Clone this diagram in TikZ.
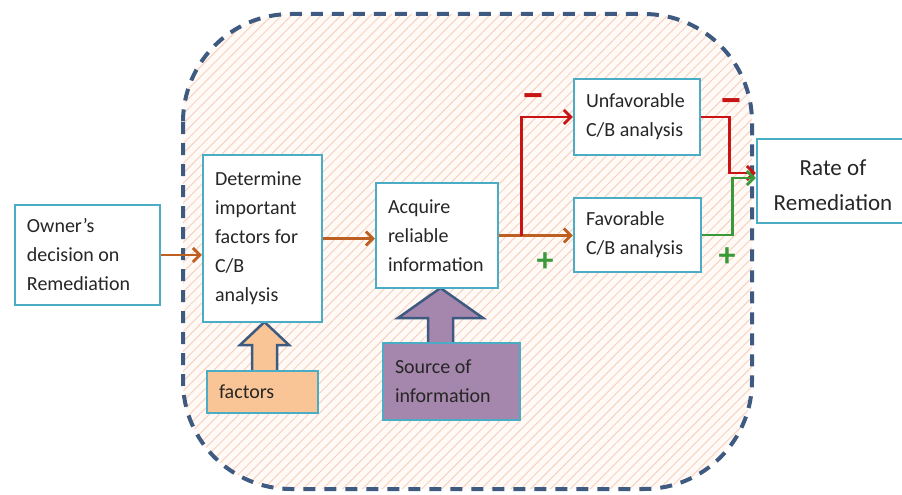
\documentclass[tikz,border=0pt]{standalone}
\usepackage{fontspec}
\setmainfont{Carlito}
\usetikzlibrary{arrows.meta,patterns.meta,calc}

\definecolor{boxteal}{HTML}{4BACC6}
\definecolor{textgray}{HTML}{262626}
\definecolor{dashblue}{HTML}{3F5A80}
\definecolor{flowbrown}{HTML}{BE5F22}
\definecolor{negred}{HTML}{C81414}
\definecolor{posgreen}{HTML}{3A9A3A}
\definecolor{hatch}{HTML}{F6D2C2}
\definecolor{peach}{HTML}{FFFAF6}
\definecolor{factorfill}{HTML}{F9C596}
\definecolor{sourcefill}{HTML}{A586AC}

\tikzset{
  box/.style={draw=boxteal, line width=2.5pt, fill=white, align=flush left,
    inner sep=0pt, text=textgray, font=\fontsize{20}{29}\selectfont},
  flow/.style={line width=2.8pt,
    -{Straight Barb[length=7pt,width=14pt]}},
  blockarrow/.style={draw=dashblue, line width=2.5pt, line join=miter},
  sign/.style={font=\bfseries\fontsize{34}{34}\selectfont, inner sep=0pt},
  minussign/.style={sign, font=\bfseries\fontsize{44}{44}\selectfont}
}

\begin{document}
\begin{tikzpicture}[x=1pt,y=-1pt]
\useasboundingbox (0,0) rectangle (902,495);

% dashed system boundary with hatched fill
\fill[peach, rounded corners=108pt] (183,14) rectangle (752,489);
\fill[pattern={Lines[angle=45,distance=7pt,line width=1pt]}, pattern color=hatch,
  rounded corners=108pt] (183,14) rectangle (752,489);
\draw[dashblue, line width=4pt, dash pattern=on 12pt off 9pt, rounded corners=108pt]
  (183,14) rectangle (752,489);

% block arrows feeding the process boxes
\draw[blockarrow, fill=factorfill]
  (252,372) -- (252,345) -- (240,345) -- (264.5,322) -- (289,345) -- (277,345) -- (277,372) -- cycle;
\draw[blockarrow, fill=sourcefill]
  (428,344) -- (428,318) -- (398,318) -- (440.5,288) -- (483,318) -- (453,318) -- (453,344) -- cycle;

% boxes
\node[box, minimum width=145pt, minimum height=100pt, text width=121pt] (owner) at (87.5,255)
  {Owner’s\\decision on\\Remediation};
\node[box, minimum width=119pt, minimum height=167pt, text width=95pt] (determine) at (262.5,238.5)
  {Determine\\important\\factors for\\C/B\\analysis};
\node[box, minimum width=122pt, minimum height=105pt, text width=98pt] (acquire) at (437,235.5)
  {Acquire\\reliable\\information};
\node[box, minimum width=126pt, minimum height=76pt, text width=102pt] (unfav) at (637,117)
  {Unfavorable\\C/B analysis};
\node[box, minimum width=127pt, minimum height=74pt, text width=103pt] (fav) at (637.5,235)
  {Favorable\\C/B analysis};
\node[box, align=flush center, minimum width=152pt, minimum height=84pt, text width=140pt,
  font=\fontsize{23}{35}\selectfont] (rate) at (833,181)
  {\strut Rate of\\Remediation};
\node[box, fill=factorfill, minimum width=111pt, minimum height=42pt, text width=87pt] (factors) at (262.5,392)
  {factors};
\node[box, fill=sourcefill, minimum width=137pt, minimum height=77pt, text width=113pt] (source) at (451.5,381.5)
  {Source of\\information};

% connectors
\draw[flow, flowbrown] (owner.east) -- (owner.east -| determine.west);
\draw[flow, flowbrown] (determine.east) -- (determine.east -| acquire.west);
\draw[flow, flowbrown] (acquire.east) -- (acquire.east -| fav.west);
\coordinate (split) at ($(acquire.east)+(22,0)$);
\draw[flow, negred] (split) |- (unfav.west);
\coordinate (rateneg) at ($(rate.west)+(0,-8)$);
\coordinate (ratepos) at ($(rate.west)+(0,-3)$);
\draw[flow, negred] (unfav.east) -- ++(28,0) |- (rateneg);
\draw[flow, posgreen] (fav.east) -- ++(30,0) |- (ratepos);

% polarity signs
\node[minussign, text=negred] (m1) at (533,102) {−};
\node[minussign, text=negred] (m2) at (731,107) {−};
\node[sign, text=posgreen] (p1) at (545,262) {+};
\node[sign, text=posgreen] (p2) at (727,257) {+};
\end{tikzpicture}
\end{document}
